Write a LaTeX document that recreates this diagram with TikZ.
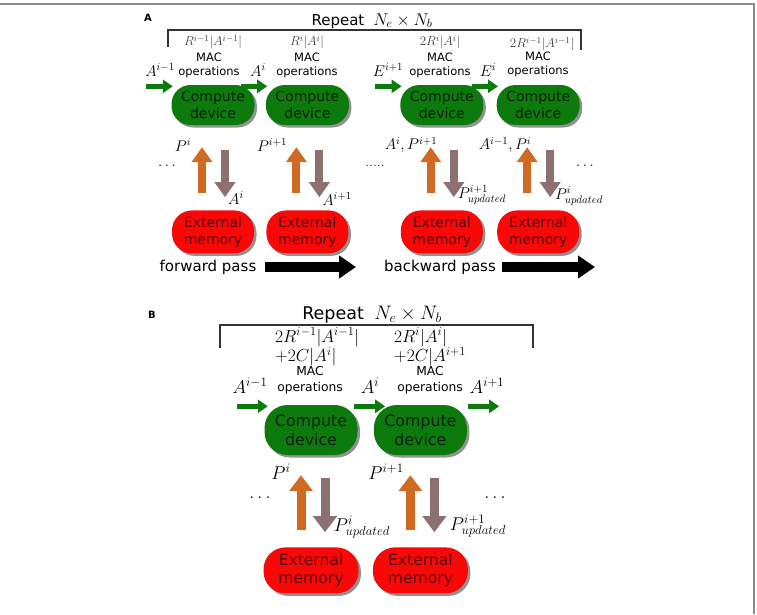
\documentclass[tikz,border=0pt]{standalone}
\usepackage{fix-cm}
\usepackage{fontspec}
\setsansfont{DejaVu Sans}
\usetikzlibrary{arrows.meta,positioning,shadows}

\definecolor{devgreen}{RGB}{12,122,12}
\definecolor{devtext}{RGB}{8,32,8}
\definecolor{memred}{RGB}{250,8,8}
\definecolor{memtext}{RGB}{90,0,0}
\definecolor{loadorange}{RGB}{208,106,34}
\definecolor{storegray}{RGB}{142,112,112}
\definecolor{framegray}{RGB}{140,140,140}

\begin{document}
\begin{tikzpicture}[
  x=1pt,y=-1pt,
  device/.style={fill=devgreen,text=devtext,rounded corners=19pt,
                 minimum width=83pt,minimum height=40pt,inner sep=0pt,align=center,
                 font=\fontsize{14}{16.5}\selectfont\sffamily,
                 drop shadow={shadow xshift=2.5pt,shadow yshift=-2.5pt,fill=black!85}},
  memory/.style={device,fill=memred,text=memtext,minimum width=82pt,minimum height=43pt,
                 rounded corners=20pt},
  deviceB/.style={device,minimum width=93pt,minimum height=50pt,rounded corners=23pt,
                  font=\fontsize{15.8}{18.5}\selectfont\sffamily},
  memoryB/.style={memory,minimum width=95pt,minimum height=46pt,rounded corners=22pt,
                  font=\fontsize{15.6}{18.5}\selectfont\sffamily},
  feed/.style={draw=devgreen,line width=5pt,-{Triangle[length=10pt,width=13pt]}},
  load/.style={draw=loadorange,line width=8pt,-{Triangle[length=15pt,width=20pt]}},
  store/.style={draw=storegray,line width=8pt,-{Triangle[length=15pt,width=20pt]}},
  loadB/.style={load,line width=9pt,-{Triangle[length=16pt,width=23pt]}},
  storeB/.style={store,line width=9pt,-{Triangle[length=16pt,width=23pt]}},
  pass/.style={draw=black,line width=10pt,-{Triangle[length=17pt,width=22pt]}},
  bracket/.style={draw=black!80,line width=1.2pt},
  panel/.style={font=\fontsize{10}{11}\selectfont\sffamily\bfseries},
  repeatA/.style={font=\fontsize{15}{17}\selectfont\sffamily},
  repeatB/.style={font=\fontsize{17.5}{20}\selectfont\sffamily},
  costA/.style={text=black!75,inner sep=1pt,font=\fontsize{13}{14}\selectfont},
  costB/.style={align=left,inner sep=1pt,font=\fontsize{17.5}{17}\selectfont},
  macA/.style={align=center,inner sep=1pt,font=\fontsize{11.5}{14}\selectfont\sffamily},
  macB/.style={align=center,inner sep=1pt,font=\fontsize{12.3}{16}\selectfont\sffamily},
  mathA/.style={inner sep=0.5pt,font=\fontsize{15.5}{17}\selectfont},
  mathB/.style={inner sep=0.5pt,font=\fontsize{18.5}{20}\selectfont},
  passtext/.style={font=\fontsize{15}{17}\selectfont\sffamily}
]
\useasboundingbox (0,0) rectangle (757,614);
\draw[framegray,line width=1.2pt] (0,4) -- (754,4) -- (754,614);

% panel A
\node[panel] (lblA) at (148,18) {A};
\node[repeatA] (repA) at (372,21) {Repeat\hspace{0.6em}{\fontsize{17}{20}\selectfont$N_e\times N_b$}};
\draw[bracket] (168,47) -- (168,30) -- (581,30) -- (581,50);

\node[device] (compA1) at (213,105) {Compute\\device};
\node[device,right=11pt of compA1] (compA2) {Compute\\device};
\node[device,right=51pt of compA2] (compA3) {Compute\\device};
\node[device,right=13pt of compA3] (compA4) {Compute\\device};
\foreach \n in {1,...,4}
  \node[memory,below=85pt of compA\n] (memA\n) {External\\memory};

\node[costA] (costA1) at (213,42) {$R^{i-1}|A^{i-1}|$};
\node[costA] (costA2) at (307,42) {$R^{i}|A^{i}|$};
\node[costA] (costA3) at (440,42) {$2R^{i}|A^{i}|$};
\node[costA] (costA4) at (542,44) {$2R^{i-1}|A^{i-1}|$};
\node[macA] (macA1) at (209,65) {MAC\\operations};
\node[macA] (macA2) at (307,65) {MAC\\operations};
\node[macA] (macA3) at (440,65) {MAC\\operations};
\node[macA] (macA4) at (538,64) {MAC\\operations};
\node[mathA] (inA1) at (160,70) {$A^{i-1}$};
\node[mathA] (inA2) at (258,70) {$A^{i}$};
\node[mathA] (inA3) at (388,70) {$E^{i+1}$};
\node[mathA] (inA4) at (488,70) {$E^{i}$};

\foreach \n in {1,...,4}
  \draw[feed] ([xshift=-25pt,yshift=-1.5pt]compA\n.north west) -- ([xshift=1.5pt,yshift=-1.5pt]compA\n.north west);
\foreach \n in {1,...,4} {
  \draw[load,shorten <=17pt,shorten >=22pt] ([xshift=-11pt]memA\n.north) -- ([xshift=-11pt]compA\n.south);
  \draw[store,shorten <=25pt,shorten >=13pt] ([xshift=12pt]compA\n.south) -- ([xshift=12pt]memA\n.north);
}

\node[mathA] (upA1) at (183,145) {$P^{i}$};
\node[mathA] (upA2) at (272,145) {$P^{i+1}$};
\node[mathA] (upA3) at (411,145) {$A^{i},P^{i+1}$};
\node[mathA] (upA4) at (505,145) {$A^{i-1},P^{i}$};
\node[mathA] (downA1) at (236,198) {$A^{i}$};
\node[mathA] (downA2) at (337,199) {$A^{i+1}$};
\node[mathA] (downA3) at (482,195) {$P^{i+1}_{updated}$};
\node[mathA] (downA4) at (579,196) {$P^{i}_{updated}$};
\node[mathA] (dotsA1) at (167,166) {$\ldots$};
\node[mathA] (dotsA2) at (375,166) {.....};
\node[mathA] (dotsA3) at (585,166) {$\ldots$};

\node[passtext] (fwd) at (208,267) {forward pass};
\coordinate (fwdend) at (356,267);
\draw[pass] ([xshift=5pt]fwd.east) -- (fwdend);
\node[passtext] (bwd) at (440,267) {backward pass};
\coordinate (bwdend) at (595,267);
\draw[pass] ([xshift=3pt]bwd.east) -- (bwdend);

% panel B
\node[panel] (lblB) at (152,315) {B};
\node[repeatB] (repB) at (372,315) {Repeat\hspace{0.6em}{\fontsize{19.5}{22}\selectfont$N_e\times N_b$}};
\draw[bracket] (220,348) -- (220,325) -- (533,325) -- (533,348);

\node[deviceB] (compB1) at (311,430) {Compute\\device};
\node[deviceB,right=16pt of compB1] (compB2) {Compute\\device};
\node[memoryB,below=92pt of compB1] (memB1) {External\\memory};
\node[memoryB,below=92pt of compB2] (memB2) {External\\memory};

\node[costB,anchor=west] (costB1) at (274,347) {$2R^{i-1}|A^{i-1}|$\\$+2C|A^{i}|$};
\node[costB,anchor=west] (costB2) at (393,347) {$2R^{i}|A^{i}|$\\$+2C|A^{i+1}$};
\node[macB] (macB1) at (310,380) {MAC\\operations};
\node[macB] (macB2) at (430,380) {MAC\\operations};
\node[mathB] (inB1) at (250,386) {$A^{i-1}$};
\node[mathB] (inB2) at (370,386) {$A^{i}$};
\node[mathB] (inB3) at (487,386) {$A^{i+1}$};

\coordinate (outB) at ([xshift=32pt,yshift=-1.5pt]compB2.north east);
\draw[feed] ([xshift=-27pt,yshift=-1.5pt]compB1.north west) -- ([xshift=3.5pt,yshift=-1.5pt]compB1.north west);
\draw[feed] ([xshift=-20pt,yshift=-1.5pt]compB2.north west) -- ([xshift=11.5pt,yshift=-1.5pt]compB2.north west);
\draw[feed] ([xshift=0.5pt,yshift=-1.5pt]compB2.north east) -- (outB);
\foreach \n in {1,2} {
  \draw[loadB,shorten <=17pt,shorten >=20pt] ([xshift=-10pt]memB\n.north) -- ([xshift=-10pt]compB\n.south);
  \draw[storeB,shorten <=23pt,shorten >=15pt] ([xshift=14pt]compB\n.south) -- ([xshift=14pt]memB\n.north);
}

\node[mathB] (upB1) at (281,472) {$P^{i}$};
\node[mathB] (upB2) at (386,472) {$P^{i+1}$};
\node[mathB] (downB1) at (362,527) {$P^{i}_{updated}$};
\node[mathB] (downB2) at (478,526) {$P^{i+1}_{updated}$};
\node[mathB] (dotsB1) at (260,498) {$\ldots$};
\node[mathB] (dotsB2) at (495,498) {$\ldots$};
\end{tikzpicture}
\end{document}
